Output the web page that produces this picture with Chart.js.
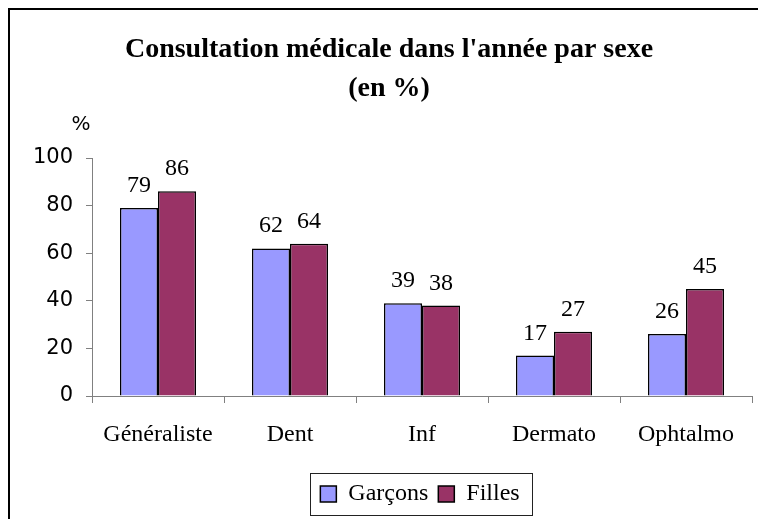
<!DOCTYPE html>
<html>
<head>
<meta charset="utf-8">
<script src="https://cdn.jsdelivr.net/npm/chart.js@4.4.0/dist/chart.umd.min.js"></script>
<style>
html, body { margin: 0; padding: 0; background: #fff; }
#wrap { width: 758px; height: 519px; }
</style>
</head>
<body>
<div id="wrap"><canvas id="chart" width="758" height="519"></canvas></div>
<script>
const categories = ["Généraliste", "Dent", "Inf", "Dermato", "Ophtalmo"];
const garcons = [79, 62, 39, 17, 26];
const filles = [86, 64, 38, 27, 45];
const yTicks = [0, 20, 40, 60, 80, 100];
const titleLines = ["Consultation médicale dans l'année par sexe", "(en %)"];
const unitLabel = "%";

const SERIF = "'Liberation Serif', 'Times New Roman', serif";
const SANS = "'DejaVu Sans', Arial, sans-serif";

// frame, title, unit label, value labels and the legend border
const decorations = {
    id: 'decorations',
    afterLayout(chart) {
        // legend sits centred under the plot rather than the full width
        chart.legend.left += 34;
        chart.legend.right += 34;
    },
    beforeDraw(chart) {
        const c = chart.ctx;
        c.save();
        c.fillStyle = '#fff';
        c.fillRect(0, 0, chart.width, chart.height);
        c.strokeStyle = '#000';
        c.lineWidth = 2;
        c.strokeRect(9, 9, chart.width + 20, chart.height + 20);

        c.fillStyle = '#000';
        c.textAlign = 'center';
        c.textBaseline = 'alphabetic';
        c.font = "bold 28px " + SERIF;
        c.fillText(titleLines[0], 389, 57);
        c.fillText(titleLines[1], 389, 96);
        c.font = "20px " + SANS;
        c.fillText(unitLabel, 81, 130);
        c.restore();
    },
    afterDraw(chart) {
        const c = chart.ctx;
        c.save();
        c.font = "24px " + SERIF;
        c.fillStyle = '#000';
        c.textAlign = 'center';
        c.textBaseline = 'alphabetic';
        chart.data.datasets.forEach((ds, i) => {
            chart.getDatasetMeta(i).data.forEach((bar, j) => {
                c.fillText(String(ds.data[j]), bar.x, bar.y - 16);
            });
        });

        const boxes = chart.legend.legendHitBoxes;
        if (boxes && boxes.length) {
            const first = boxes[0];
            const last = boxes[boxes.length - 1];
            const cy = first.top + first.height / 2;
            const left = Math.round(first.left - 10) + 0.5;
            const right = Math.round(last.left + last.width + 12) + 0.5;
            c.strokeStyle = '#222';
            c.lineWidth = 1;
            c.strokeRect(left, Math.round(cy - 21) + 0.5, right - left, 42);
        }
        c.restore();
    }
};

const ctx = document.getElementById("chart").getContext("2d");
new Chart(ctx, {
    type: "bar",
    data: {
        labels: categories,
        datasets: [
            {
                label: "Garçons",
                data: garcons,
                backgroundColor: "#9999FF",
                borderColor: "#000",
                borderWidth: 1.5
            },
            {
                label: "Filles",
                data: filles,
                backgroundColor: "#993366",
                borderColor: "#000",
                borderWidth: 1.5
            }
        ]
    },
    options: {
        responsive: false,
        animation: false,
        datasets: {
            bar: { barPercentage: 1, categoryPercentage: 0.576 }
        },
        layout: { padding: { top: 158, left: 20, right: 6, bottom: 3 } },
        plugins: {
            title: { display: false },
            tooltip: { enabled: false },
            legend: {
                position: 'bottom',
                labels: {
                    font: { family: SERIF, size: 24 },
                    color: '#000',
                    boxWidth: 16,
                    boxHeight: 16,
                    padding: 10
                }
            }
        },
        scales: {
            x: {
                grid: { offset: true, drawOnChartArea: false, tickLength: 7, color: '#808080' },
                border: { color: '#808080', width: 1 },
                ticks: { font: { family: SERIF, size: 24 }, color: '#000', padding: 17, maxRotation: 0 },
                afterFit(s) { s.height = 76; }
            },
            y: {
                min: 0,
                max: 100,
                grid: { drawOnChartArea: false, tickLength: 6, color: '#808080' },
                border: { color: '#808080', width: 1 },
                ticks: { font: { family: SANS, size: 21 }, color: '#000', padding: 13 },
                afterBuildTicks(s) { s.ticks = yTicks.map(v => ({ value: v })); },
                afterFit(s) { s.width = 72; }
            }
        }
    },
    plugins: [decorations]
});
</script>
</body>
</html>
